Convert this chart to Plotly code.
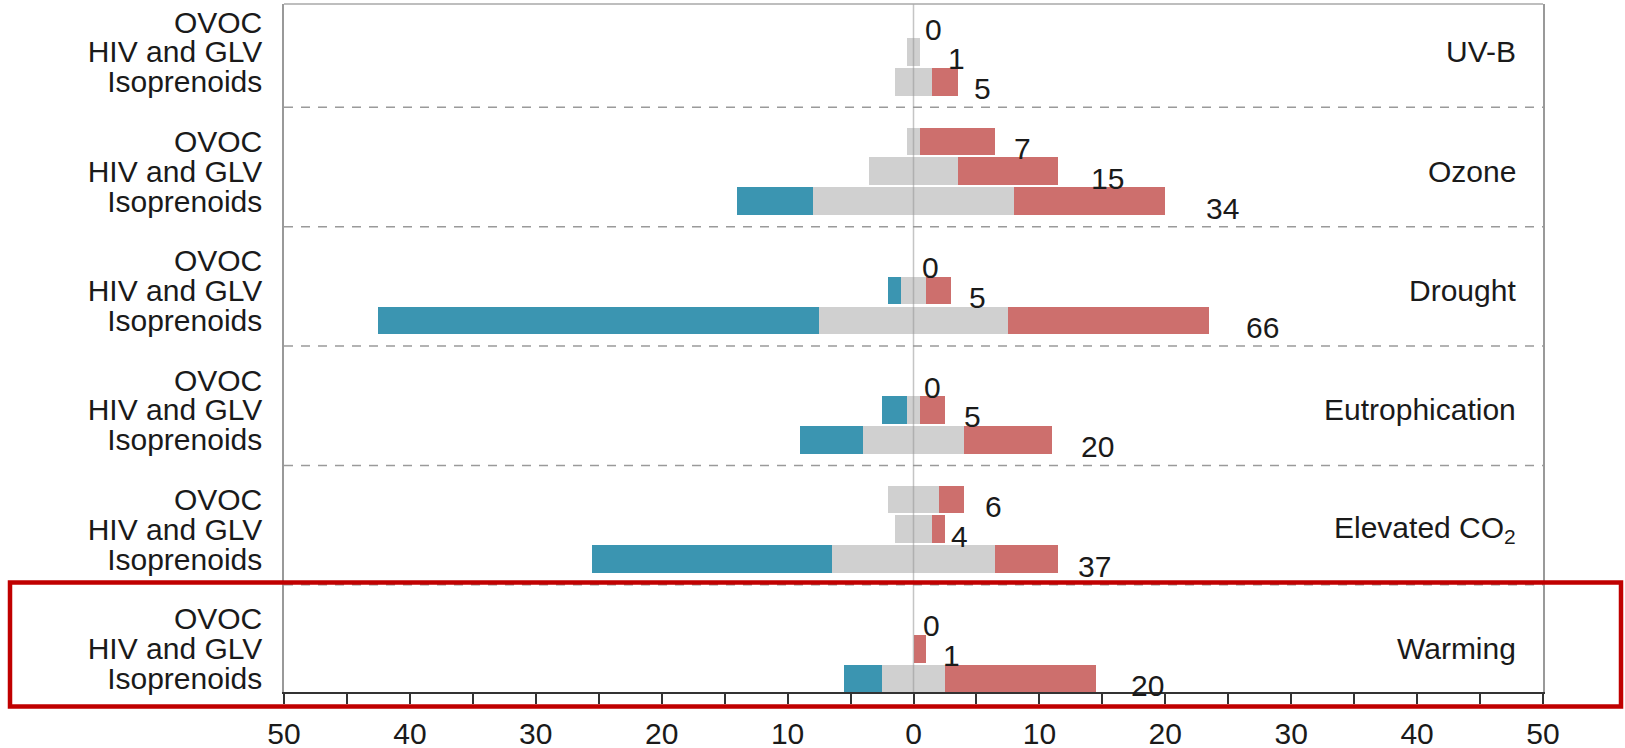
import plotly.graph_objects as go

# Number of studies reporting a decrease / no change / increase in emissions
groups = ["UV-B", "Ozone", "Drought", "Eutrophication", "Elevated CO<sub>2</sub>", "Warming"]
compounds = ["OVOC", "HIV and GLV", "Isoprenoids"]

decrease = [[0, 0, 0], [0, 0, 6], [0, 1, 35], [0, 2, 5], [0, 0, 19], [0, 0, 3]]
no_change = [[0, 1, 3], [1, 7, 16], [0, 2, 15], [0, 1, 8], [4, 3, 13], [0, 0, 5]]
increase = [[0, 0, 2], [6, 8, 12], [0, 2, 16], [0, 2, 7], [2, 1, 5], [0, 1, 12]]

x_major = list(range(-50, 51, 10))
x_minor = list(range(-45, 50, 10))

# ---- styling ----
BLUE = "#3b95b1"
GRAY = "#d0d0d0"
RED = "#cd6f6d"
TEXT = "#1a1a1a"
FONT = "Liberation Sans, Arial, Helvetica, sans-serif"
FS = 30
ROWS_PER_GROUP = 4
SEP_OFFSET = 2.86          # separator position inside a group (row units)
BAR_WIDTH = 0.93
# pixel gap between each bar end and its count label
label_gap = [10, 27, 15, 18, 32, 40, 7, 17, 36, 9, 18, 28, 20, 5, 19, 8, 16, 34]

W, H = 1625, 748
ML, MR, MT, MB = 284, 82, 4, 56
PW, PH = W - ML - MR, H - MT - MB


def px_to_paper(px, py):
    return (px - ML) / PW, 1 - (py - MT) / PH


pos, dec, nc, inc, ticktext = [], [], [], [], []
for g in range(len(groups)):
    for c, name in enumerate(compounds):
        pos.append(g * ROWS_PER_GROUP + c)
        dec.append(decrease[g][c])
        nc.append(no_change[g][c])
        inc.append(increase[g][c])
        ticktext.append(name)

fig = go.Figure()
fig.add_trace(go.Bar(
    y=pos, x=dec, base=[-n / 2 - d for n, d in zip(nc, dec)], orientation="h",
    width=BAR_WIDTH, marker=dict(color=BLUE, line=dict(width=0)), name="Decrease",
    hoverinfo="skip"))
fig.add_trace(go.Bar(
    y=pos, x=nc, base=[-n / 2 for n in nc], orientation="h",
    width=BAR_WIDTH, marker=dict(color=GRAY, line=dict(width=0)), name="No change",
    hoverinfo="skip"))
fig.add_trace(go.Bar(
    y=pos, x=inc, base=[n / 2 for n in nc], orientation="h",
    width=BAR_WIDTH, marker=dict(color=RED, line=dict(width=0)), name="Increase",
    hoverinfo="skip"))

annotations = []
# total number of studies next to each bar
for i, p in enumerate(pos):
    total = dec[i] + nc[i] + inc[i]
    right_end = nc[i] / 2 + inc[i]
    annotations.append(dict(
        x=right_end, y=p, xref="x", yref="y", text=str(total), showarrow=False,
        xanchor="left", yanchor="middle", xshift=label_gap[i] - 1, yshift=-7,
        font=dict(family=FONT, size=FS, color=TEXT)))

# driver names on the right-hand side
for g, name in enumerate(groups):
    annotations.append(dict(
        x=48, y=g * ROWS_PER_GROUP + 1, xref="x", yref="y", text=name,
        showarrow=False, xanchor="right", yanchor="middle",
        font=dict(family=FONT, size=FS, color=TEXT)))

shapes = []
# dashed separators between drivers
for g in range(len(groups) - 1):
    ys = g * ROWS_PER_GROUP + SEP_OFFSET
    shapes.append(dict(type="line", xref="paper", yref="y", x0=0, x1=1, y0=ys, y1=ys,
                       line=dict(color="#9a9a9a", width=1.5, dash="9px,8px"), layer="below"))
# zero line
shapes.append(dict(type="line", xref="x", yref="paper", x0=0, x1=0, y0=0, y1=1,
                   line=dict(color="rgba(150,150,150,0.55)", width=1.5), layer="above"))
# top frame
shapes.append(dict(type="line", xref="paper", yref="paper", x0=0, x1=1, y0=1, y1=1,
                   line=dict(color="#a8a8a8", width=1.5)))
# highlight box around the warming panel
bx0, by0 = px_to_paper(10, 582.5)
bx1, by1 = px_to_paper(1621, 706.5)
shapes.append(dict(type="rect", xref="paper", yref="paper", x0=bx0, x1=bx1, y0=by1, y1=by0,
                   line=dict(color="#c00000", width=4.5), fillcolor="rgba(0,0,0,0)", layer="above"))

n_rows_top = -0.603
n_rows_bot = 22.45

fig.update_layout(
    width=W, height=H,
    margin=dict(l=ML, r=MR, t=MT, b=MB),
    paper_bgcolor="white", plot_bgcolor="white",
    barmode="overlay", bargap=0, showlegend=False,
    font=dict(family=FONT, size=FS, color=TEXT),
    annotations=annotations, shapes=shapes,
    xaxis=dict(
        range=[-50, 50], tickmode="array", tickvals=x_major,
        ticktext=[str(abs(v)) for v in x_major],
        ticks="outside", ticklen=10, tickwidth=1.5, tickcolor="#333",
        minor=dict(tickmode="array", tickvals=x_minor, ticks="outside", ticklen=10,
                   tickwidth=1.5, tickcolor="#333", showgrid=False),
        showline=True, linecolor="#333", linewidth=1.5, mirror=False,
        showgrid=False, zeroline=False, ticklabelstandoff=4, automargin=False,
        tickfont=dict(family=FONT, size=FS, color=TEXT), fixedrange=True),
    yaxis=dict(
        range=[n_rows_bot, n_rows_top], tickmode="array", tickvals=pos, ticktext=ticktext,
        ticks="", showline=True, linecolor="#999", linewidth=1.5, mirror=True,
        showgrid=False, zeroline=False, ticklabelstandoff=14, automargin=False,
        tickfont=dict(family=FONT, size=FS, color=TEXT), fixedrange=True),
)

fig.write_html("out.html")
